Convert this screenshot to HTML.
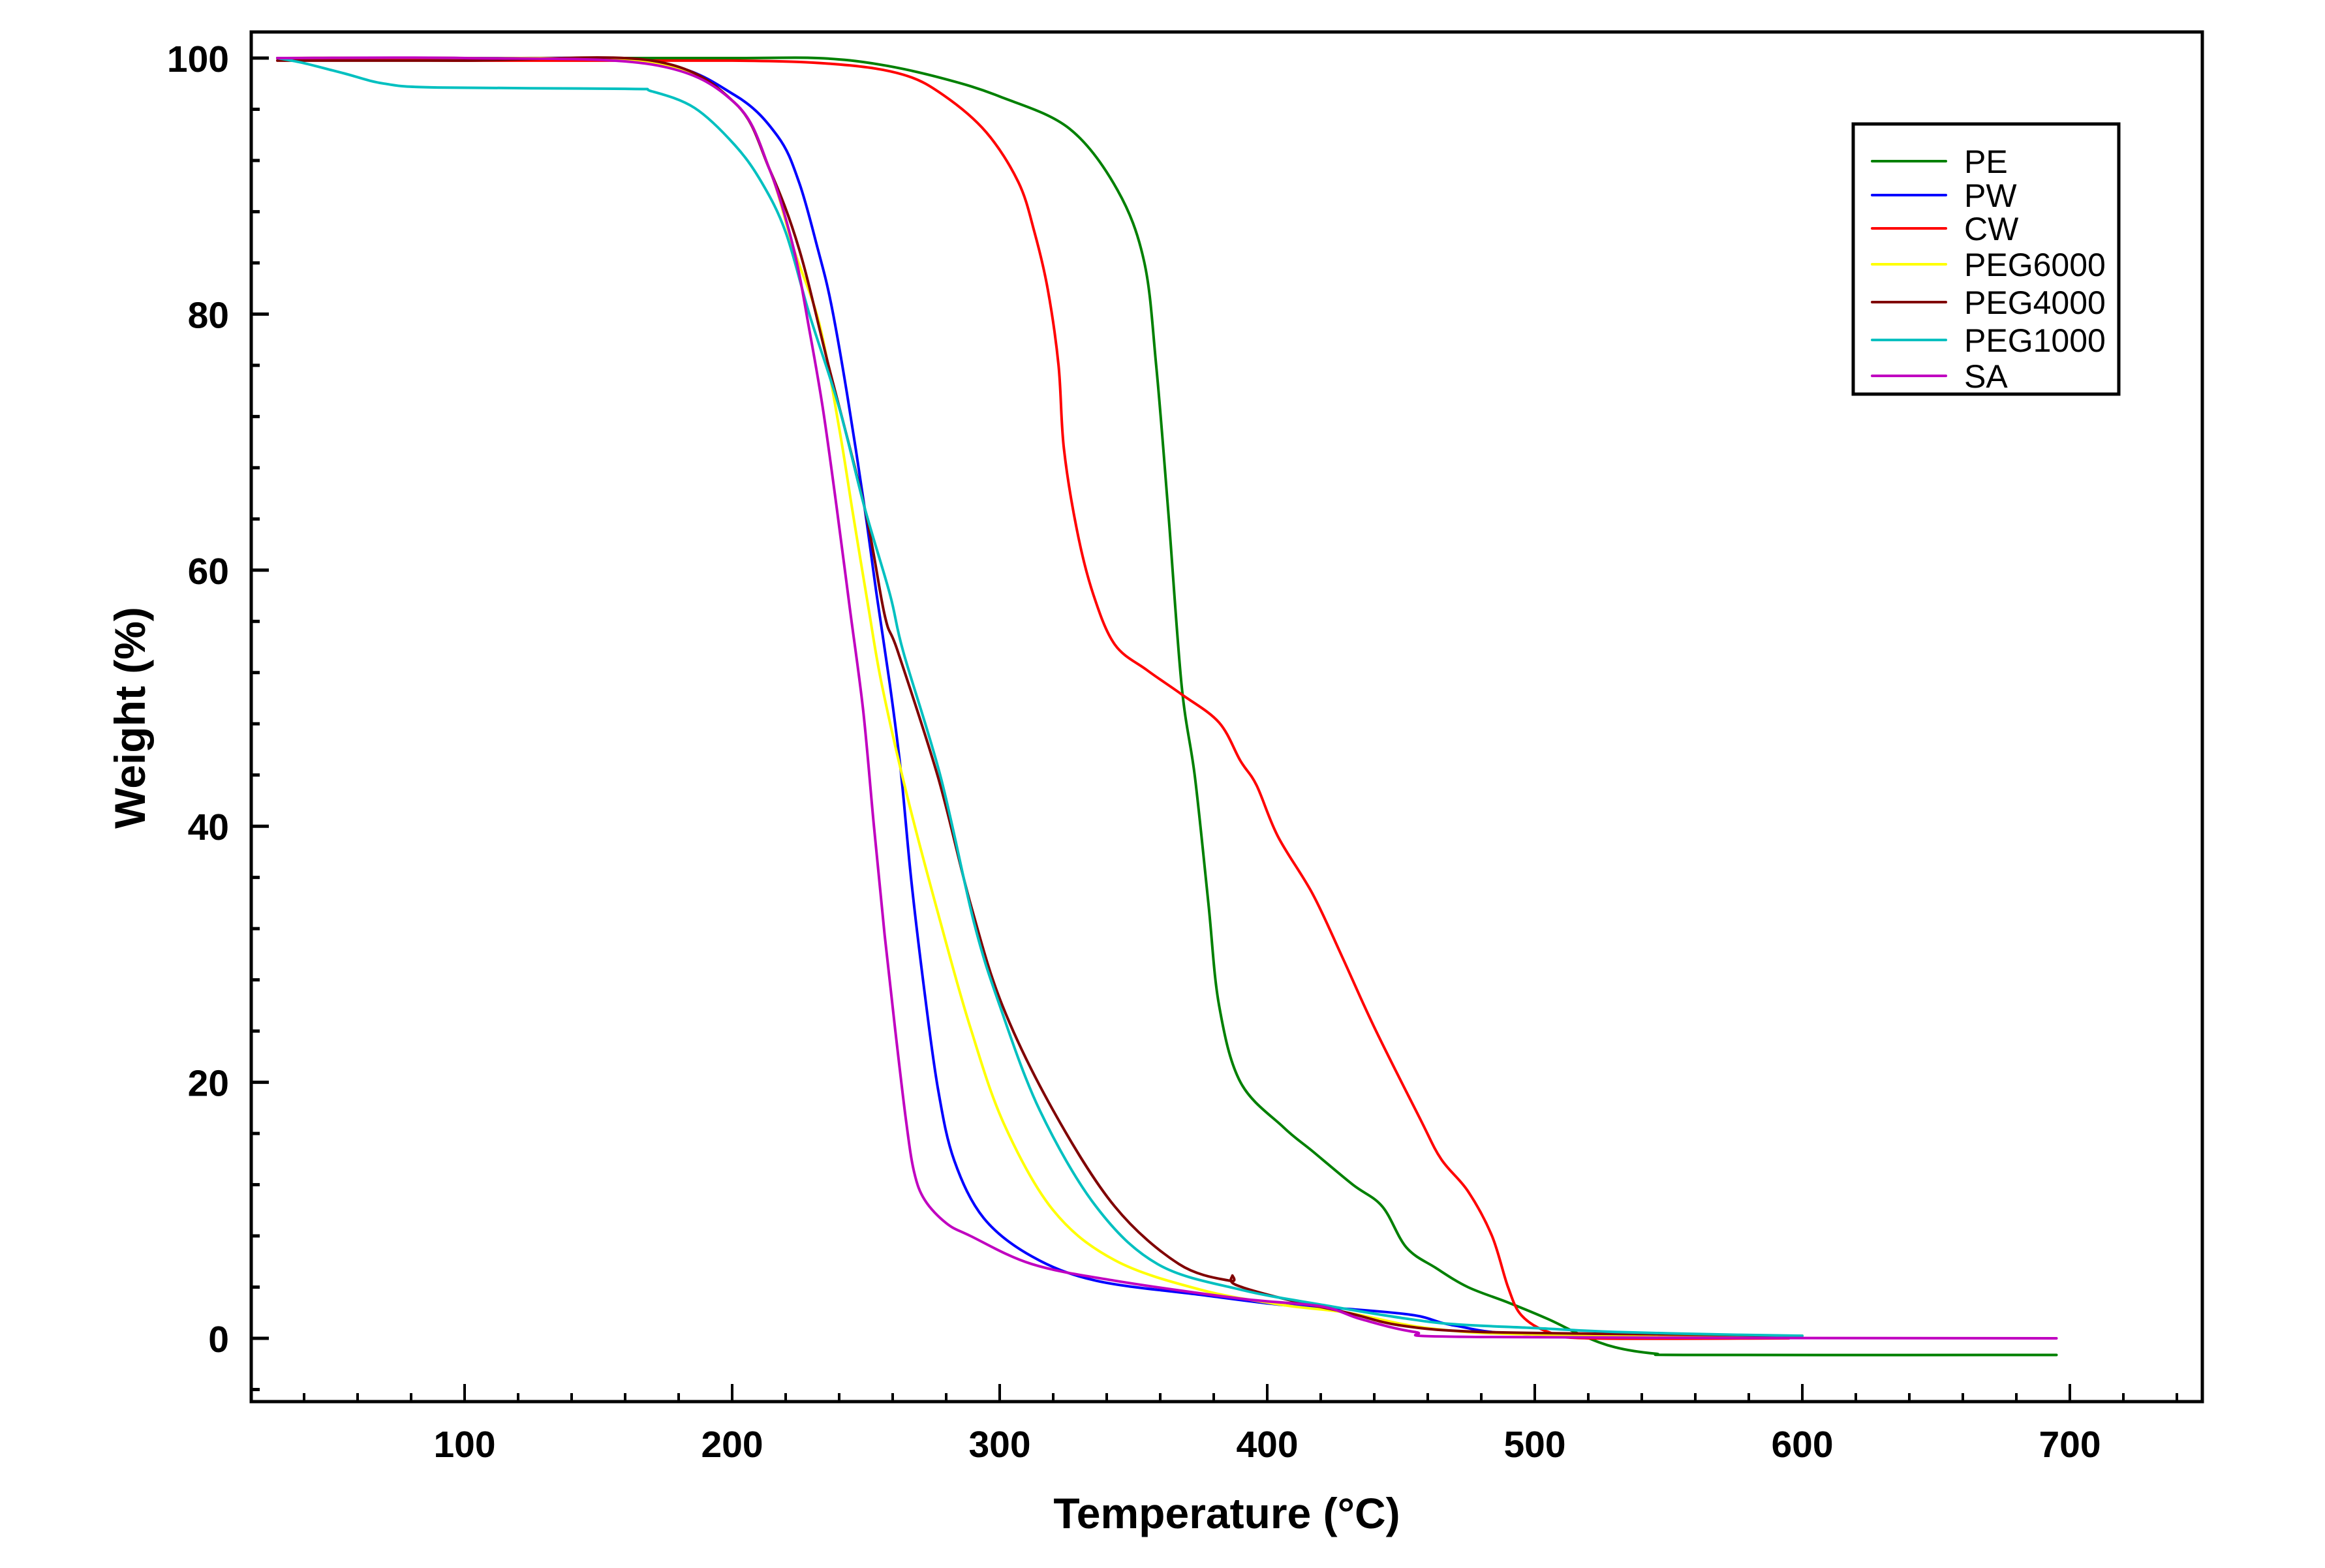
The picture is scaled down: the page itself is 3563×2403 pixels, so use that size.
<!DOCTYPE html>
<html><head><meta charset="utf-8"><style>
html,body{margin:0;padding:0;background:#fff;}
svg{display:block;}
</style></head><body>
<svg id="chart" width="3563" height="2403" viewBox="0 0 3563 2403" xmlns="http://www.w3.org/2000/svg" font-family="'Liberation Sans', Arial, sans-serif">
<g id="plot"></g>
<g id="axes"></g>
<g id="legend"></g>
</svg>
<script>
const xTicks = [100,200,300,400,500,600,700];
const yTicks = [0,20,40,60,80,100];
const seriesNames = ["PE","PW","CW","PEG6000","PEG4000","PEG1000","SA"];
const seriesColors = ["#008000","#0000ff","#ff0000","#ffff00","#800000","#00c0c0","#c000c0"];
const tPE = [30,100,200,232,255,279,300,326,344,354,358.5,363,368,373,378,382,390,406,417,432,443,452,463,475,490,505,518,530,545,560,695];
const wPE = [100,100,100,100,99.5,98.4,97,94.5,89.7,84.1,76,64.6,51,43.8,34,26,20,16.5,14.6,12,10.3,7.1,5.5,4,2.8,1.5,0.2,-0.7,-1.2,-1.3,-1.3];
const tPW = [30,100,170,201,217,225,232,237,243,249.5,254,259,263,267,272,277,283,294,312,336,375,406,430,455,470,500,600];
const wPW = [100,100,99.7,97.1,93.9,90.3,85.1,80.8,73.7,64.9,58.1,51,44.4,35.7,26.9,19.4,13.9,9.4,6.4,4.5,3.4,2.6,2.3,1.8,1,0.3,0.2];
const tCW = [30,100,200,240,264,279,295,307,313,318,322,324,329,335,343,355,368,382,390,396,404,417,428,440,457,465,475,484,490,495,505,520,595];
const wCW = [100,99.8,99.8,99.5,98.7,97.1,94.2,90.3,86.4,81.9,76,69.5,63,58.1,54.2,52.2,50.3,48.1,45.1,43.2,39.2,34.7,29.8,24.3,17.2,14,11.5,8,4,1.8,0.5,0,0];
const tP6 = [30,100,170,201,214,223,232.5,240,245,251,256,265.6,278,289,301.5,320,343,375,406,430,460,500,600];
const wP6 = [100,100,99.6,96.5,91.3,85.1,79.3,71.1,64.6,57,51,42.2,32.4,24.3,16.8,10,6.1,3.8,2.6,2,0.8,0.3,0.2];
const tP4 = [30,100,170,201,214,225,236,249.5,257,262,277,289,301,320,343,367,386,387,388,406,430,450,480,550,595];
const wP4 = [99.8,99.8,99.8,96.5,91.3,85.1,76,64.9,56.5,53.6,43.8,34,26,17.8,10.3,5.8,4.5,4.9,4.2,3.1,2,1,0.5,0.3,0.2];
const tP1 = [30,40,55,70,90,160,170,186,201,211,220,229,240,249.5,259,264,278,290.5,300,315,336,359,390,421,450,470,500,530,570,600];
const wP1 = [100,99.6,98.8,98,97.7,97.6,97.4,96.1,93.2,90.3,86.4,79.9,72.7,64.9,58.1,53.6,43.8,32.4,26,17.8,10.3,5.8,3.8,2.6,1.6,1.1,0.8,0.5,0.3,0.2];
const tSA = [30,100,170,201,214,223,229,234,239,244,249,253,257,261,265,268,272,280,289,312,343,390,420,435,455,480,695];
const wSA = [100,100,99.5,96.5,91.3,85.1,78.6,72.5,65,57,49,40,31.5,24,17,13,10.8,9,8,5.8,4.5,3.1,2.5,1.5,0.5,0.1,0];
const seriesT = [tPE,tPW,tCW,tP6,tP4,tP1,tSA];
const seriesW = [wPE,wPW,wCW,wP6,wP4,wP1,wSA];

const NS="http://www.w3.org/2000/svg";
const L=385,R=3375,T=49,B=2148;
function xs(v){return 302+v*4.1;}
function ys(v){return 2051-v*19.62;}
function mk(tag,attrs,parent){const e=document.createElementNS(NS,tag);for(const k in attrs)e.setAttribute(k,attrs[k]);parent.appendChild(e);return e;}
function smoothPath(p){
  let d="M"+p[0][0].toFixed(1)+","+p[0][1].toFixed(1);
  for(let i=0;i<p.length-1;i++){
    const p0=p[Math.max(0,i-1)],p1=p[i],p2=p[i+1],p3=p[Math.min(p.length-1,i+2)];
    const c1x=p1[0]+(p2[0]-p0[0])/6,c1y=p1[1]+(p2[1]-p0[1])/6;
    const c2x=p2[0]-(p3[0]-p1[0])/6,c2y=p2[1]-(p3[1]-p1[1])/6;
    d+=" C"+c1x.toFixed(1)+","+c1y.toFixed(1)+" "+c2x.toFixed(1)+","+c2y.toFixed(1)+" "+p2[0].toFixed(1)+","+p2[1].toFixed(1);
  }
  return d;
}
const plot=document.getElementById('plot'),axes=document.getElementById('axes'),legend=document.getElementById('legend');

for(let s=0;s<seriesNames.length;s++){
  const pts=seriesT[s].map((t,i)=>[xs(t),ys(seriesW[s][i])]);
  const pl=mk('path',{d:smoothPath(pts),fill:'none',stroke:seriesColors[s],'stroke-width':4,'stroke-linejoin':'round','stroke-linecap':'round'},plot);
  
  
}

const fr=mk('rect',{x:L,y:T,width:R-L,height:B-T,fill:'none',stroke:'#000','stroke-width':5},axes);



for(let v=20;v<=780;v+=20){
  const x=xs(v); if(x<=L+3||x>=R-3) continue;
  const major=(v%100===0);
  const tk=mk('line',{x1:x,x2:x,y1:B,y2:B-(major?27:13),stroke:'#000','stroke-width':4},axes);
  
  
}
xTicks.forEach(v=>{
  const t=mk('text',{x:xs(v),y:2233,'text-anchor':'middle','font-size':57,'font-weight':'bold',fill:'#000'},axes);
  t.textContent=v;
  
  
});
for(let v=-4;v<=100;v+=4){
  const y=ys(v); const major=(v%20===0);
  const tk=mk('line',{x1:L,x2:L+(major?27:13),y1:y,y2:y,stroke:'#000','stroke-width':5},axes);
  
  
}
yTicks.forEach(v=>{
  const t=mk('text',{x:351,y:ys(v)+21,'text-anchor':'end','font-size':57,'font-weight':'bold',fill:'#000'},axes);
  t.textContent=v;
  
  
});
const xt=mk('text',{x:1880,y:2342,'text-anchor':'middle','font-size':66,'font-weight':'bold',fill:'#000'},axes);
xt.textContent='Temperature (°C)';


const yt=mk('text',{x:0,y:0,'text-anchor':'middle','font-size':66,'font-weight':'bold',fill:'#000',transform:'translate(222,1100) rotate(-90)'},axes);
yt.textContent='Weight (%)';



const lb=mk('rect',{x:2840,y:190,width:407,height:414,fill:'#fff',stroke:'#000','stroke-width':5},legend);


const rowY=[247,299,350,405,463,521,576];
seriesNames.forEach((n,i)=>{
  const g=mk('g',{},legend);
  
  
  mk('line',{x1:2869,x2:2982,y1:rowY[i],y2:rowY[i],stroke:seriesColors[i],'stroke-width':4,'stroke-linecap':'round'},g);
  const t=mk('text',{x:3010,y:rowY[i]+18,'font-size':50,fill:'#000'},g);
  t.textContent=n;
});
</script>
</body></html>
